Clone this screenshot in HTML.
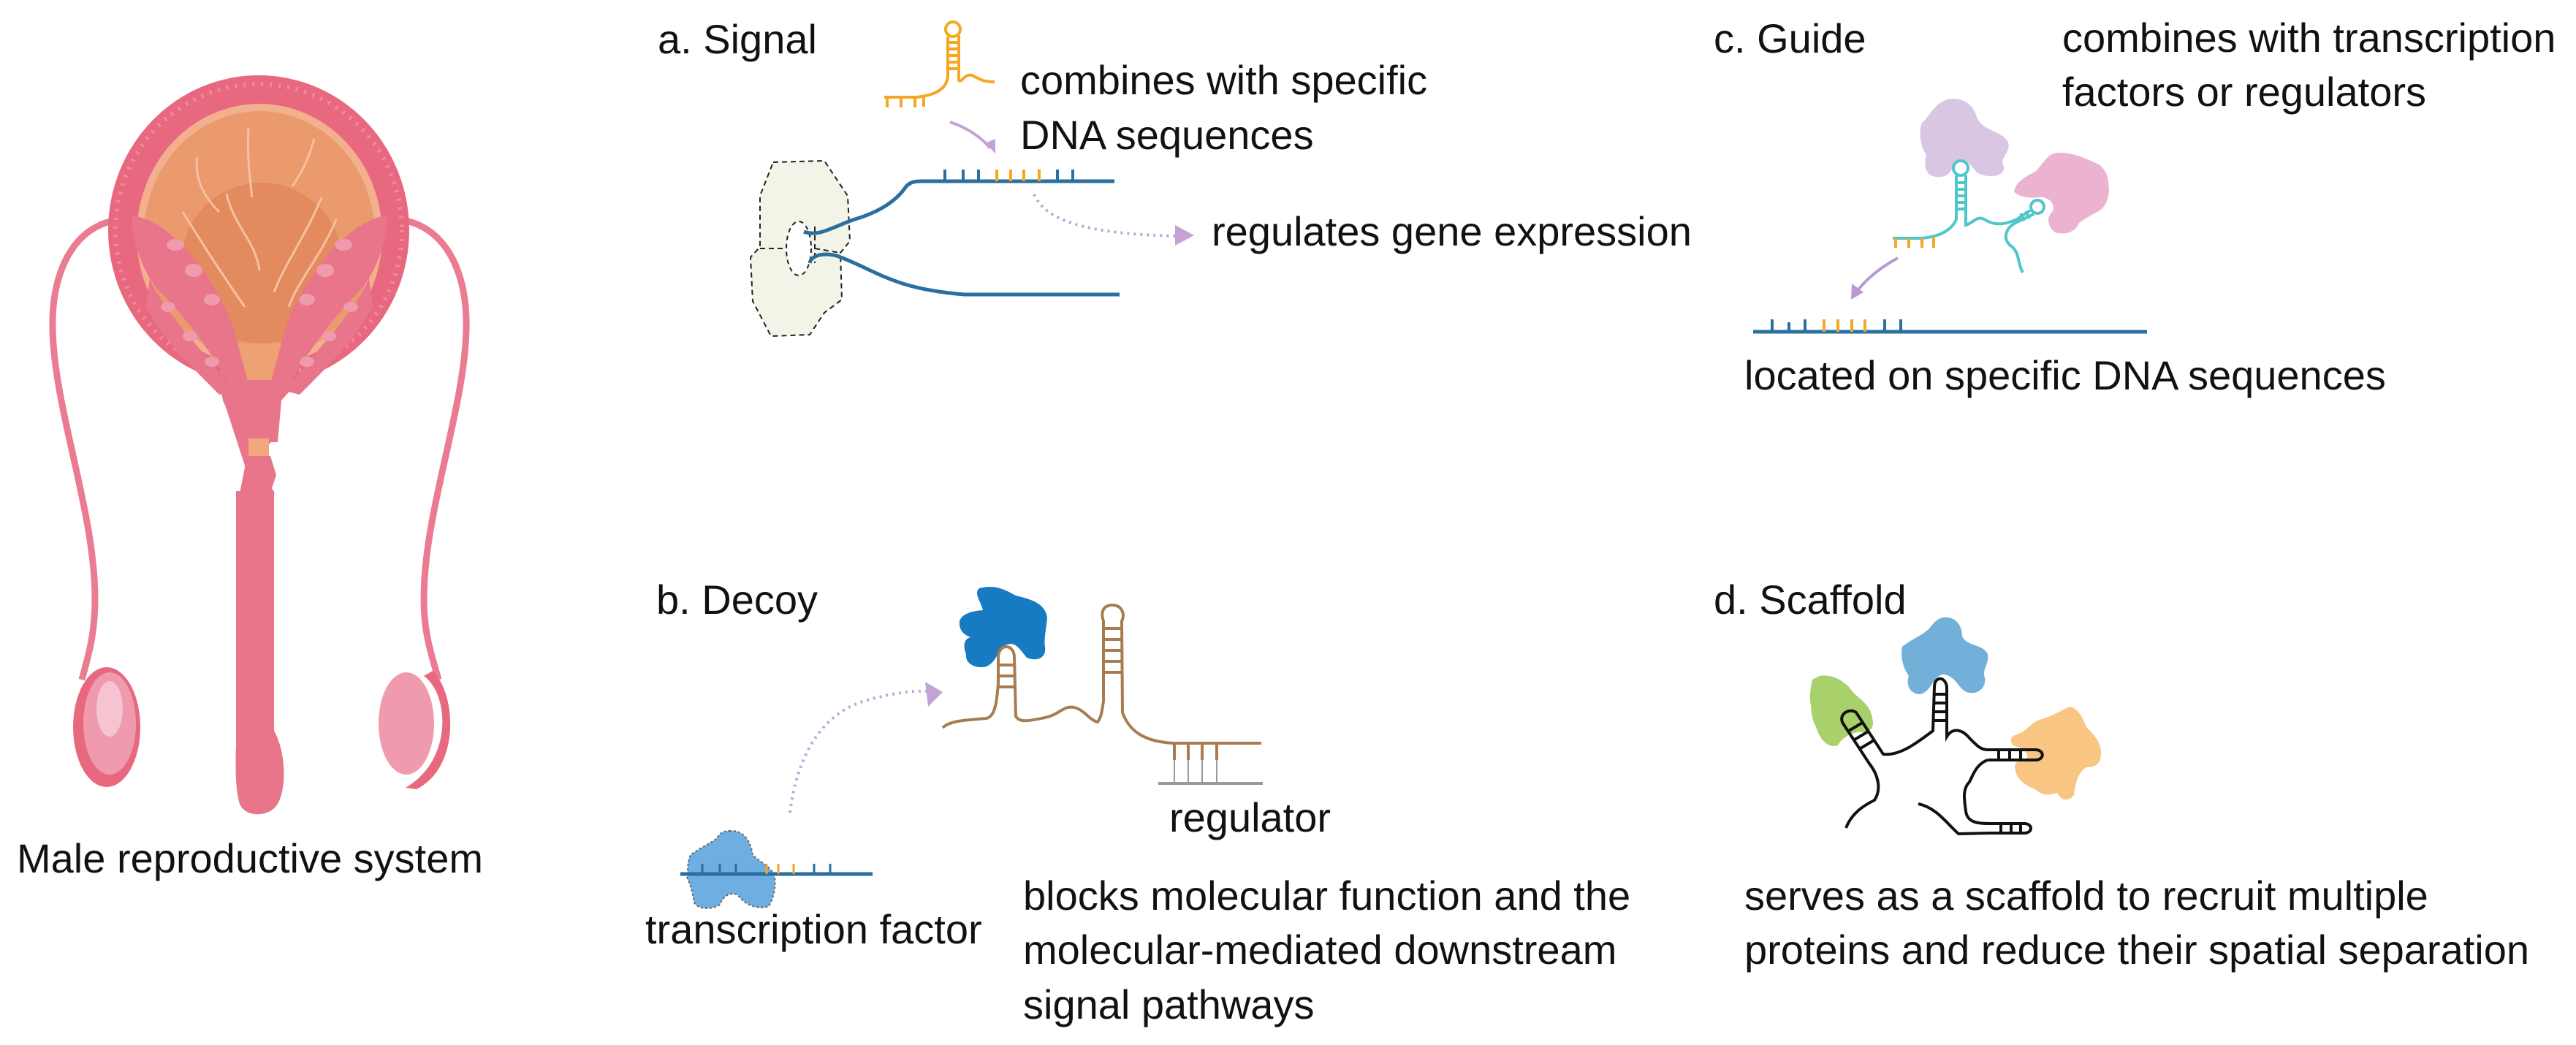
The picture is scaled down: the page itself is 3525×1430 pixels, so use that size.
<!DOCTYPE html>
<html><head><meta charset="utf-8"><style>
html,body{margin:0;padding:0;background:#fff;}
svg{display:block;}
text{font-family:"Liberation Sans",Arial,sans-serif;font-size:56px;fill:#111;}
</style></head><body>
<svg width="3525" height="1430" viewBox="0 0 3525 1430" xmlns="http://www.w3.org/2000/svg">
<!-- ===== Male reproductive system ===== -->
<g>
  <path d="M175,300 C110,300 70,360 72,450 C74,560 130,700 130,820 C130,870 120,900 112,930" fill="none" stroke="#ea7b90" stroke-width="9"/>
  <path d="M535,300 C600,300 640,360 638,450 C636,560 580,700 580,820 C580,870 592,900 600,930" fill="none" stroke="#ea7b90" stroke-width="9"/>
  <ellipse cx="354" cy="315" rx="206" ry="212" fill="#e8687f"/>
  <ellipse cx="354" cy="315" rx="196" ry="200" fill="none" stroke="#f08a9c" stroke-width="6" stroke-dasharray="3 9"/>
  <ellipse cx="355" cy="322" rx="168" ry="180" fill="#f3b08f"/>
  <ellipse cx="355" cy="322" rx="158" ry="170" fill="#eb9a6e"/>
  <ellipse cx="358" cy="360" rx="110" ry="110" fill="#e38a5f"/>
  <g fill="none" stroke="#f6c1a2" stroke-width="3">
    <path d="M270,215 C265,250 285,275 300,290"/>
    <path d="M340,175 C338,215 342,245 345,270"/>
    <path d="M430,190 C420,225 410,240 400,255"/>
    <path d="M310,265 C320,310 350,330 355,370"/>
    <path d="M250,290 C275,330 300,370 335,420"/>
    <path d="M440,270 C420,320 390,360 375,400"/>
    <path d="M460,300 C440,350 410,380 395,420"/>
  </g>
  <!-- seminal vesicles (narrow diagonal bands) -->
  <path d="M180,295 C230,300 290,370 320,450 L345,540 L318,535 C290,480 250,430 215,395 C195,370 180,330 180,295 Z" fill="#e8758a"/>
  <path d="M530,295 C480,300 420,370 390,450 L365,540 L392,535 C420,480 460,430 495,395 C515,370 530,330 530,295 Z" fill="#e8758a"/>
  <path d="M205,380 C220,420 260,460 300,510 L320,535 L300,540 C260,500 220,460 200,420 Z" fill="#e8758a"/>
  <path d="M505,380 C490,420 450,460 410,510 L390,535 L410,540 C450,500 490,460 510,420 Z" fill="#e8758a"/>
  <g fill="#f09aae">
    <ellipse cx="240" cy="335" rx="12" ry="8"/><ellipse cx="265" cy="370" rx="12" ry="9"/><ellipse cx="290" cy="410" rx="11" ry="8"/><ellipse cx="230" cy="420" rx="10" ry="7"/><ellipse cx="260" cy="460" rx="10" ry="7"/><ellipse cx="290" cy="495" rx="10" ry="7"/>
    <ellipse cx="470" cy="335" rx="12" ry="8"/><ellipse cx="445" cy="370" rx="12" ry="9"/><ellipse cx="420" cy="410" rx="11" ry="8"/><ellipse cx="480" cy="420" rx="10" ry="7"/><ellipse cx="450" cy="460" rx="10" ry="7"/><ellipse cx="420" cy="495" rx="10" ry="7"/>
  </g>
  <path d="M325,470 L340,525 L370,525 L385,470 Z" fill="#eda175"/>
  <path d="M300,520 L410,520 L385,548 L380,605 L330,605 L305,548 Z" fill="#e8758a"/>
  <path d="M306,548 L382,548 L376,600 L336,640 Z" fill="#e8758a"/>
  <rect x="340" y="600" width="28" height="24" fill="#f3a77c"/>
  <path d="M338,624 L370,624 L378,650 L372,668 L376,675 L328,675 L332,655 Z" fill="#e8758a"/>
  <path d="M323,672 L375,672 L375,1000 C392,1030 392,1080 380,1100 C370,1118 336,1120 328,1100 C322,1080 322,1050 323,1020 Z" fill="#e8758a"/>
  <ellipse cx="146" cy="995" rx="46" ry="82" fill="#e8687f"/>
  <ellipse cx="150" cy="990" rx="36" ry="70" fill="#f09aae"/>
  <ellipse cx="150" cy="970" rx="18" ry="38" fill="#f6c3d0"/>
  <ellipse cx="556" cy="990" rx="38" ry="70" fill="#f09aae"/>
  <path d="M580,925 C615,950 620,1040 555,1078 L570,1080 C630,1050 625,950 592,918 Z" fill="#e8687f"/>
  <text x="23" y="1194">Male reproductive system</text>
</g>

<!-- ===== a. Signal ===== -->
<text x="900" y="73">a. Signal</text>
<path d="M1058,222 L1128,220 L1160,268 L1163,330 L1150,346 L1152,410 L1128,428 L1108,458 L1055,460 L1030,412 L1027,352 L1040,338 L1040,268 Z" fill="#f1f4e6" stroke="#222" stroke-width="2" stroke-dasharray="7 5"/>
<path d="M1040,340 L1080,340 M1115,340 L1150,346 M1115,310 L1115,360" fill="none" stroke="#222" stroke-width="2" stroke-dasharray="7 5"/>
<ellipse cx="1093" cy="340" rx="17" ry="37" fill="#fff" stroke="#222" stroke-width="2" stroke-dasharray="6 5"/>
<path d="M1100,317 C1120,325 1140,310 1170,300 C1210,288 1230,270 1240,255 C1245,250 1250,248 1260,248 L1525,248" fill="none" stroke="#2a6fa0" stroke-width="5"/>
<path d="M1108,360 C1110,350 1125,345 1145,350 C1200,370 1220,395 1320,403 L1532,403" fill="none" stroke="#2a6fa0" stroke-width="5"/>
<g stroke-width="4">
  <path d="M1293,232V248M1318,232V248M1339,232V248M1447,232V248M1468,232V248" stroke="#2a6fa0"/>
  <path d="M1364,232V248M1383,232V248M1401,232V248M1422,232V248" stroke="#f5a623"/>
</g>
<g fill="none" stroke="#f5a623" stroke-width="4">
  <path d="M1210,133 L1255,133 C1280,130 1295,122 1297,105 L1297,50"/>
  <path d="M1312,48 L1312,110 C1316,114 1320,100 1330,103 C1340,108 1345,112 1361,112"/>
  <circle cx="1304" cy="40" r="10"/>
  <path d="M1297,58H1312M1297,67H1312M1297,76H1312M1297,85H1312M1297,94H1312"/>
  <path d="M1214,133V147M1233,133V147M1252,133V147M1264,132V146"/>
</g>
<path d="M1300,167 C1325,175 1345,190 1355,203" fill="none" stroke="#c3a2d6" stroke-width="4"/>
<path d="M1348,196 L1362,210 L1362,190 Z" fill="#c3a2d6"/>
<text x="1396" y="129">combines with specific</text>
<text x="1396" y="204">DNA sequences</text>
<path d="M1415,266 C1430,300 1480,320 1610,323" fill="none" stroke="#c3a2d6" stroke-width="4" stroke-dasharray="3 6"/>
<path d="M1608,308 L1634,322 L1608,336 Z" fill="#c3a2d6"/>
<text x="1658" y="336">regulates gene expression</text>

<!-- ===== c. Guide ===== -->
<text x="2345" y="72">c. Guide</text>
<text x="2822" y="71">combines with transcription</text>
<text x="2822" y="145">factors or regulators</text>
<path d="M2660,138 C2680,130 2700,140 2705,160 C2712,180 2740,178 2748,195 C2752,210 2735,215 2742,228 C2744,238 2730,244 2715,240 C2700,238 2700,222 2686,220 C2672,220 2672,242 2655,242 C2635,244 2632,228 2636,212 C2628,200 2625,180 2630,168 C2640,160 2645,145 2660,138 Z" fill="#d9c6e2"/>
<path d="M2810,210 C2830,206 2850,215 2872,225 C2885,235 2885,245 2886,260 C2885,275 2880,285 2870,290 C2860,295 2852,300 2845,305 C2840,318 2826,322 2812,318 C2802,310 2800,298 2808,290 C2815,280 2802,268 2790,270 C2775,272 2760,268 2756,262 C2758,250 2770,242 2785,235 C2795,225 2800,214 2810,210 Z" fill="#ebb3cf"/>
<g fill="none" stroke="#4fc6c9" stroke-width="4">
  <path d="M2590,326 L2630,326 C2660,323 2672,312 2677,300 L2677,240"/>
  <circle cx="2683" cy="230" r="10"/>
  <path d="M2690,240 L2690,308 C2700,305 2705,295 2715,300 C2730,310 2745,307 2760,300 L2778,288"/>
  <path d="M2677,250H2690M2677,259H2690M2677,268H2690M2677,277H2690M2677,286H2690"/>
  <circle cx="2788" cy="283" r="9"/>
  <path d="M2783,293 L2762,303 C2745,310 2740,325 2750,335 C2765,345 2760,360 2768,373"/>
  <path d="M2765,292 L2770,302 M2772,289 L2777,299"/>
</g>
<path d="M2594,326V339M2612,326V339M2630,326V339M2646,324V339" stroke="#f5a623" stroke-width="4"/>
<path d="M2597,353 C2575,365 2555,380 2540,400" fill="none" stroke="#b99ad0" stroke-width="4"/>
<path d="M2533,410 L2534,388 L2550,400 Z" fill="#b99ad0"/>
<path d="M2399,454 L2938,454" stroke="#2a6fa0" stroke-width="5"/>
<g stroke-width="4">
  <path d="M2425,437V454M2448,441V454M2470,437V454M2579,437V454M2601,437V454" stroke="#2a6fa0"/>
  <path d="M2496,437V454M2515,437V454M2534,437V454M2552,437V454" stroke="#f5a623"/>
</g>
<text x="2387" y="533">located on specific DNA sequences</text>

<!-- ===== b. Decoy ===== -->
<text x="898" y="840">b. Decoy</text>
<path d="M1340,805 C1360,800 1372,805 1390,815 C1410,820 1430,825 1433,845 C1432,860 1428,875 1430,885 C1432,900 1420,906 1405,900 C1395,888 1390,878 1378,882 C1365,888 1365,905 1350,912 C1335,916 1320,908 1322,895 C1318,885 1318,875 1328,872 C1318,868 1312,862 1313,850 C1316,840 1330,836 1345,835 C1342,822 1332,812 1340,805 Z" fill="#167bc0"/>
<g fill="none" stroke="#a87c50" stroke-width="4">
  <path d="M1290,996 C1300,985 1330,985 1350,983 C1362,980 1364,960 1366,935 L1366,900 C1366,880 1388,880 1388,900 L1390,980 C1395,990 1410,986 1430,982 C1450,978 1455,965 1470,968 C1485,972 1490,985 1502,988 C1508,980 1508,970 1510,960 L1510,850 C1505,835 1512,828 1522,828 C1535,828 1540,840 1535,850 L1536,975 C1545,1000 1565,1015 1606,1017 L1726,1017"/>
  <path d="M1366,910H1388M1366,925H1388M1366,940H1388"/>
  <path d="M1510,860H1536M1510,875H1536M1510,890H1536M1510,905H1536M1510,920H1536"/>
  <path d="M1607,1017V1040M1626,1017V1040M1645,1017V1040M1665,1017V1040"/>
</g>
<path d="M1607,1040V1070M1626,1040V1070M1645,1040V1070M1665,1040V1070" stroke="#999" stroke-width="2"/>
<path d="M1585,1072H1728" stroke="#999" stroke-width="4"/>
<text x="1600" y="1138">regulator</text>
<path d="M1081,1112 C1090,1040 1120,980 1180,960 C1220,948 1250,945 1270,946" fill="none" stroke="#c3a2d6" stroke-width="4" stroke-dasharray="3 6"/>
<path d="M1266,933 L1290,947 L1270,967 Z" fill="#c3a2d6"/>
<path d="M998,1137 C1020,1135 1028,1155 1030,1170 C1040,1180 1055,1185 1060,1200 C1062,1215 1058,1230 1052,1240 C1040,1245 1020,1240 1010,1225 C1000,1220 990,1225 985,1238 C975,1245 955,1245 950,1235 C948,1222 945,1212 940,1200 C942,1190 940,1180 945,1170 C955,1162 970,1155 980,1148 C985,1140 990,1137 998,1137 Z" fill="#6eaee0" stroke="#666" stroke-width="2" stroke-dasharray="3 3"/>
<path d="M931,1196H1194" stroke="#2a6fa0" stroke-width="5"/>
<g stroke-width="3">
  <path d="M961,1182V1196M985,1182V1196M1007,1182V1196M1114,1182V1196M1136,1182V1196" stroke="#2a6fa0"/>
  <path d="M1049,1182V1196M1065,1182V1196M1086,1182V1196" stroke="#f5a623"/>
</g>
<text x="883" y="1291">transcription factor</text>
<text x="1400" y="1245">blocks molecular function and the</text>
<text x="1400" y="1319">molecular-mediated downstream</text>
<text x="1400" y="1394">signal pathways</text>

<!-- ===== d. Scaffold ===== -->
<text x="2345" y="840">d. Scaffold</text>
<path d="M2660,845 C2675,843 2685,855 2685,870 C2690,885 2712,880 2720,895 C2722,910 2712,915 2716,928 C2718,940 2708,950 2695,948 C2680,946 2678,925 2660,923 C2645,923 2645,945 2628,950 C2612,950 2608,935 2612,925 C2605,915 2600,900 2603,885 C2615,875 2630,870 2640,860 C2648,850 2652,846 2660,845 Z" fill="#72b0d9"/>
<path d="M2490,925 C2505,922 2520,930 2530,940 C2540,955 2555,960 2560,975 C2565,990 2565,1000 2550,1002 C2535,1000 2520,1010 2515,1020 C2500,1025 2490,1010 2485,995 C2480,985 2478,975 2478,965 C2475,955 2478,940 2480,930 Z" fill="#a8d16b"/>
<path d="M2830,968 C2840,965 2850,980 2855,995 C2865,1005 2875,1015 2875,1030 C2875,1045 2868,1050 2855,1050 C2845,1055 2840,1070 2838,1088 C2830,1098 2820,1095 2815,1085 C2805,1088 2795,1090 2785,1080 C2770,1075 2760,1065 2758,1055 C2755,1045 2760,1040 2770,1040 C2780,1035 2770,1025 2760,1022 C2750,1020 2748,1008 2760,1005 C2775,1000 2778,990 2790,985 C2810,980 2820,972 2830,968 Z" fill="#f9c583"/>
<g fill="none" stroke="#111" stroke-width="4">
  <path d="M2526,1133 C2535,1110 2555,1100 2565,1095 C2575,1080 2570,1060 2558,1045 L2522,990 C2515,978 2530,968 2540,975 L2577,1032 C2600,1035 2625,1015 2645,1000 L2647,940 C2647,925 2662,925 2664,940 L2664,1008 C2672,995 2685,998 2695,1010 C2705,1020 2710,1026 2720,1026 L2785,1026"/>
  <path d="M2720,1040 L2785,1040 M2785,1026 C2798,1026 2798,1040 2785,1040"/>
  <path d="M2720,1040 C2705,1045 2700,1060 2695,1070 C2685,1080 2688,1095 2690,1110 C2692,1125 2705,1127 2722,1127 L2770,1127 C2782,1127 2782,1140 2770,1140 L2722,1140 L2680,1141 C2665,1128 2650,1105 2625,1100"/>
  <path d="M2647,950H2664M2647,962H2664M2647,974H2664M2647,986H2664"/>
  <path d="M2530,1000L2550,988M2538,1012L2558,1000M2546,1024L2566,1012"/>
  <path d="M2735,1026V1040M2750,1026V1040M2765,1026V1040M2738,1127V1140M2752,1127V1140M2765,1127V1140"/>
</g>
<text x="2387" y="1245">serves as a scaffold to recruit multiple</text>
<text x="2387" y="1319">proteins and reduce their spatial separation</text>
</svg>
</body></html>
